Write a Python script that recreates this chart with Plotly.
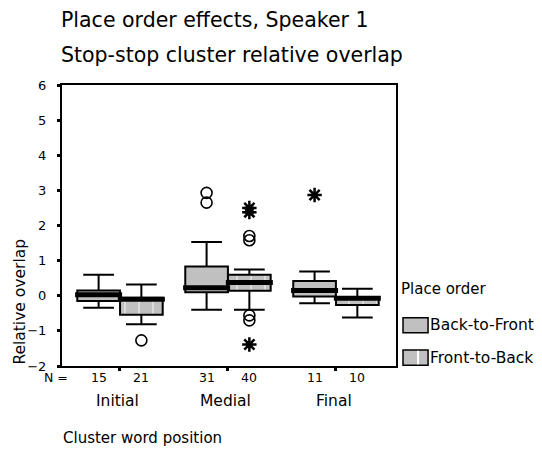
import plotly.graph_objects as go

# ---- data
positions = ["Initial", "Medial", "Final"]
orders = ["Back-to-Front", "Front-to-Back"]
n_counts = {"Back-to-Front": [15, 31, 11], "Front-to-Back": [21, 40, 10]}

upper_whisker = {"Back-to-Front": [0.60, 1.53, 0.69], "Front-to-Back": [0.32, 0.75, 0.20]}
q3 = {"Back-to-Front": [0.15, 0.83, 0.42], "Front-to-Back": [-0.06, 0.60, -0.04]}
median = {"Back-to-Front": [0.03, 0.23, 0.15], "Front-to-Back": [-0.10, 0.38, -0.07]}
q1 = {"Back-to-Front": [-0.15, 0.10, -0.02], "Front-to-Back": [-0.54, 0.14, -0.26]}
lower_whisker = {"Back-to-Front": [-0.34, -0.40, -0.21], "Front-to-Back": [-0.81, -0.40, -0.62]}

# outliers (circles) and extremes (asterisks): group index, order, value
outlier_pos = [0, 1, 1, 1, 1, 1, 1]
outlier_order = ["Front-to-Back", "Back-to-Front", "Back-to-Front",
                 "Front-to-Back", "Front-to-Back", "Front-to-Back", "Front-to-Back"]
outlier_val = [-1.27, 2.93, 2.65, 1.70, 1.58, -0.56, -0.70]

extreme_pos = [1, 1, 1, 2]
extreme_order = ["Front-to-Back", "Front-to-Back", "Front-to-Back", "Back-to-Front"]
extreme_val = [2.50, 2.38, -1.39, 2.87]

y_ticks = [-2, -1, 0, 1, 2, 3, 4, 5, 6]

# ---- layout helpers
BOX_W = 0.395
OFFSET = {"Back-to-Front": -0.198, "Front-to-Back": 0.198}
GRAY = "#c0c0c0"
FONT = "DejaVu Sans"

fig = go.Figure()

for order in orders:
    xs = [i + OFFSET[order] for i in range(len(positions))]
    heights = [a - b for a, b in zip(q3[order], q1[order])]
    pattern = dict(shape="|", fgcolor="white", bgcolor=GRAY, size=14, solidity=0.12) \
        if order == "Front-to-Back" else dict(shape="")
    fig.add_trace(go.Bar(
        x=xs, y=heights, base=q1[order], width=BOX_W,
        marker=dict(color=GRAY, line=dict(width=0), pattern=pattern),
        showlegend=False, hoverinfo="skip",
    ))
    for i, x in enumerate(xs):
        fig.add_trace(go.Box(
            x=[x], q1=[q1[order][i]], median=[median[order][i]], q3=[q3[order][i]],
            lowerfence=[lower_whisker[order][i]], upperfence=[upper_whisker[order][i]],
            width=BOX_W, whiskerwidth=0.72, fillcolor="rgba(0,0,0,0)",
            line=dict(color="black", width=2), boxpoints=False, showlegend=False,
        ))
    # thick median bars
    mx, my = [], []
    for i, x in enumerate(xs):
        mx += [x - BOX_W / 2 - 0.02, x + BOX_W / 2 + 0.02, None]
        my += [median[order][i], median[order][i], None]
    fig.add_trace(go.Scatter(x=mx, y=my, mode="lines",
                             line=dict(color="black", width=5), showlegend=False))

fig.add_trace(go.Scatter(
    x=[p + OFFSET[o] for p, o in zip(outlier_pos, outlier_order)], y=outlier_val,
    mode="markers", marker=dict(symbol="circle-open", size=11, color="black",
                                line=dict(width=1.6)),
    showlegend=False,
))
fig.add_trace(go.Scatter(
    x=[p + OFFSET[o] for p, o in zip(extreme_pos, extreme_order)], y=extreme_val,
    mode="markers", marker=dict(symbol="asterisk-open", size=12, color="black",
                                line=dict(width=2.5, color="black")),
    showlegend=False,
))

# N counts row and category labels
for order in orders:
    for i, n in enumerate(n_counts[order]):
        fig.add_annotation(x=i + OFFSET[order], y=-0.04, xref="x", yref="paper",
                           text=str(n), showarrow=False, yanchor="middle",
                           font=dict(size=12.5, family=FONT))
for i, name in enumerate(positions):
    fig.add_annotation(x=i - 0.02, y=-0.125, xref="x", yref="paper", text=name,
                       showarrow=False, yanchor="middle", font=dict(size=15.5, family=FONT))
fig.add_annotation(x=0.024, y=-0.04, xref="paper", yref="paper", text="N =",
                   showarrow=False, xanchor="right", yanchor="middle",
                   font=dict(size=12.5, family=FONT))
fig.add_annotation(x=-0.003, y=-0.256, xref="paper", yref="paper", text="Cluster word position",
                   showarrow=False, xanchor="left", yanchor="middle",
                   font=dict(size=15, family=FONT))
fig.add_annotation(x=-0.125, y=0.23, xref="paper", yref="paper", text="Relative overlap",
                   textangle=-90, showarrow=False, xanchor="center", yanchor="middle",
                   font=dict(size=15.5, family=FONT))

# titles
fig.add_annotation(x=-0.006, y=1.232, xref="paper", yref="paper",
                   text="Place order effects, Speaker 1", showarrow=False,
                   xanchor="left", yanchor="middle", borderpad=0,
                   font=dict(size=20.5, family=FONT))
fig.add_annotation(x=-0.006, y=1.108, xref="paper", yref="paper",
                   text="Stop-stop cluster relative overlap", showarrow=False,
                   xanchor="left", yanchor="middle", borderpad=0,
                   font=dict(size=20.5, family=FONT))

# hand-drawn legend
fig.add_annotation(x=1.009, y=0.274, xref="paper", yref="paper", text="Place order",
                   showarrow=False, xanchor="left", yanchor="middle",
                   font=dict(size=15, family=FONT))
legend_y = [0.145, 0.03]
for order, ly in zip(orders, legend_y):
    fig.add_shape(type="rect", xref="paper", yref="paper",
                  x0=1.021, x1=1.096, y0=ly - 0.027, y1=ly + 0.027,
                  fillcolor=GRAY, line=dict(color="black", width=1.5))
    if order == "Front-to-Back":
        fig.add_shape(type="line", xref="paper", yref="paper",
                      x0=1.066, x1=1.066, y0=ly - 0.024, y1=ly + 0.024,
                      line=dict(color="white", width=2))
    fig.add_annotation(x=1.097, y=ly, xref="paper", yref="paper", text=order,
                       showarrow=False, xanchor="left", yanchor="middle",
                       font=dict(size=15.5, family=FONT))

# the page body adds an 8px offset, so the figure is 8px smaller than the window
fig.update_layout(
    width=534, height=441,
    margin=dict(l=54, r=146, t=77, b=83),
    paper_bgcolor="white", plot_bgcolor="white",
    barmode="overlay", boxmode="overlay",
    showlegend=False,
    font=dict(family=FONT, color="black"),
)
fig.update_xaxes(
    range=[-0.537, 2.556], tickvals=[0, 1, 2], ticktext=["", "", ""],
    ticks="outside", ticklen=3, tickwidth=3, tickcolor="black",
    showline=True, linecolor="black", linewidth=2, mirror=True,
    showgrid=False, zeroline=False,
)
fig.update_yaxes(
    range=[-2, 6], tickvals=y_ticks, ticks="outside", ticklen=3, tickwidth=3,
    tickcolor="black", tickfont=dict(size=13, family=FONT), ticklabelstandoff=8,
    showline=True, linecolor="black", linewidth=2, mirror=True,
    showgrid=False, zeroline=False,
)

fig.write_html("out.html")
